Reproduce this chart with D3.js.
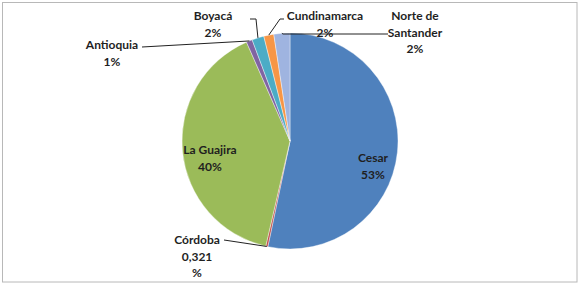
<!DOCTYPE html>
<html><head><meta charset="utf-8">
<script src="https://cdn.jsdelivr.net/npm/d3@7"></script>
<style>body{margin:0;background:#fff}svg{display:block}text{font-family:Lato,"Noto Sans",sans-serif}</style>
</head><body>
<svg id="c" width="580" height="286"></svg>
<script>
// Data
const categories = ["Cesar","Córdoba","La Guajira","Antioquia","Boyacá","Cundinamarca","Norte de Santander"];
const values = [53.3, 0.321, 39.8, 0.9, 1.8, 1.5, 2.4];
const labelText = [["Cesar","53%"],["Córdoba","0,321","%"],["La Guajira","40%"],["Antioquia","1%"],["Boyacá","2%"],["Cundinamarca","2%"],["Norte de","Santander","2%"]];
const colors = ["#4F81BD","#C0504D","#9BBB59","#8064A2","#4BACC6","#F79646","#9FB4E0"];

// Layout (label anchor positions & leader routing)
const layout = [
  {x:373, y:158, inside:true},
  {x:197, y:240, lead:[[224,240]]},
  {x:210, y:150, inside:true},
  {x:112, y:45, lead:[[142,47]]},
  {x:213, y:16, lead:[[250,19],[256,19]]},
  {x:325, y:16, lead:[[284,19],[280,19]]},
  {x:415, y:16, lead:[[388,34],[283,34]]}
];

const svg = d3.select("#c");
svg.append("rect").attr("x",2.5).attr("y",2.5).attr("width",574.5).attr("height",279.5)
  .attr("fill","#fff").attr("stroke","#b8b8b8").attr("stroke-width",1);

const cx = 290, cy = 141, r = 108;
const g = svg.append("g").attr("transform",`translate(${cx},${cy})`);
const pie = d3.pie().sort(null).value(d=>d)(values);
const arc = d3.arc().innerRadius(0).outerRadius(r);
g.selectAll("path").data(pie).join("path")
  .attr("d",arc).attr("fill",(d,i)=>colors[i])
  .attr("stroke","#fff").attr("stroke-width",0.4);

// leader lines
pie.forEach((d,i)=>{
  const L = layout[i];
  if(!L.lead) return;
  const a = (d.startAngle+d.endAngle)/2;
  const end = [cx + r*Math.sin(a), cy - r*Math.cos(a)];
  const pts = L.lead.concat([end]);
  svg.append("path").attr("d", d3.line()(pts)).attr("fill","none")
    .attr("stroke","#222").attr("stroke-width",1);
});

// labels
labelText.forEach((lines,i)=>{
  const L = layout[i];
  const t = svg.append("text").attr("text-anchor","middle")
    .attr("font-size",12).attr("font-weight","bold").attr("fill","#1f1f1f");
  lines.forEach((s,k)=>{
    t.append("tspan").attr("x",L.x).attr("y",L.y + 4 + k*16.5).text(s);
  });
});
</script>
</body></html>
